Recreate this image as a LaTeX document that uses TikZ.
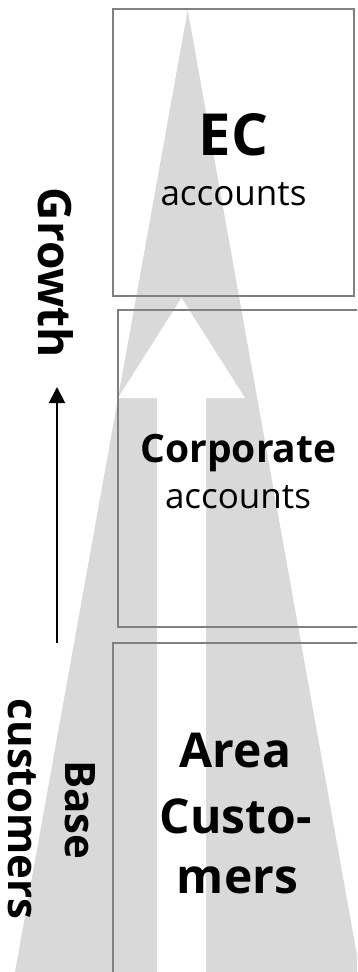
\documentclass[tikz,border=0pt]{standalone}
\usepackage{fontspec}
\setmainfont{Open Sans}
\usetikzlibrary{arrows.meta}
\definecolor{funnel}{HTML}{D9D9D9}
\definecolor{frame}{HTML}{808080}
\begin{document}
\begin{tikzpicture}[x=1pt,y=-1pt,
  tier/.style={draw=frame,line width=2pt,inner sep=0pt},
  title/.style={anchor=base,inner sep=0pt,font=\bfseries\fontsize{#1}{#1}\selectfont},
  sub/.style={anchor=base,inner sep=0pt,font=\fontsize{35}{35}\selectfont},
  side/.style={anchor=base,inner sep=0pt,text depth=0pt,rotate=-90,font=\bfseries\fontsize{#1}{#1}\selectfont}]
\useasboundingbox (0,0) rectangle (357,972);
\clip (0,0) rectangle (357,972);

% grey funnel and the white upward arrow cut into it
\fill[funnel] (187.7,10) -- (360,972) -- (15,972) -- cycle;
\fill[white] (181.5,298) -- (245,398) -- (206,398) -- (206,980)
  -- (157,980) -- (157,398) -- (118,398) -- cycle;

% the three tiers
\node[tier,minimum width=241pt,minimum height=287pt] (ecbox) at (233.5,152.5) {};
\node[tier,minimum width=262pt,minimum height=317pt] (corpbox) at (249,468.5) {};
\node[tier,minimum width=262pt,minimum height=360pt] (areabox) at (244,823) {};

% tier labels
\node[title=58] (ec) at (233.5,155) {EC};
\node[sub] (ecsub) at (233.5,205) {accounts};
\node[title=39] (corp) at (238.5,462) {Corporate};
\node[sub] (corpsub) at (238,508) {accounts};
\node[title=48] (area1) at (235.5,767) {Area};
\node[title=48] (area2) at (235.5,833) {Custo-};
\node[title=48] (area3) at (237.5,893) {mers};

% side labels and growth arrow
\node[side=46] (growth) at (38,273) {Growth};
\node[side=42] (base) at (65,810) {Base};
\node[side=42] (cust) at (9,809) {customers};
\coordinate (gstart) at (57,643);
\coordinate (gend) at (57,387);
\draw[line width=2pt,-{Triangle[length=16pt,width=16pt]}] (gstart) -- (gend);
\end{tikzpicture}
\end{document}
